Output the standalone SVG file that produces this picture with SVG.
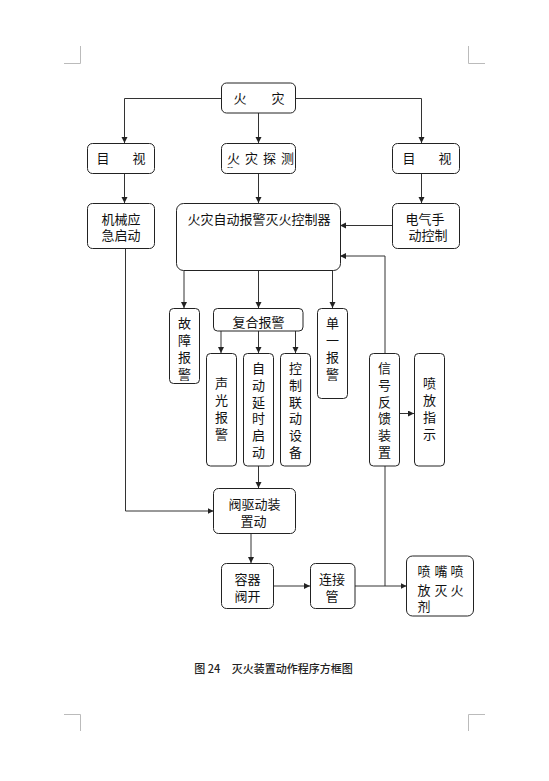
<svg xmlns="http://www.w3.org/2000/svg" width="549" height="781" viewBox="0 0 549 781">
<style>
.box{fill:#fff;stroke:#222;stroke-width:1}
.t{font-family:"Noto Sans CJK SC","Liberation Sans",sans-serif;font-size:13px;fill:#111;dominant-baseline:central;text-anchor:middle}
.ts{font-family:"Noto Sans CJK SC","Liberation Sans",sans-serif;font-size:13px;fill:#111;dominant-baseline:central;text-anchor:start}
.c{fill:none;stroke:#333;stroke-width:1}
.mark{fill:none;stroke:#bbb;stroke-width:1}
.cap{font-family:"Noto Sans CJK SC","Liberation Sans",sans-serif;font-size:11px;fill:#222;dominant-baseline:central;font-weight:500}
</style>
<defs>
<marker id="ah" markerUnits="userSpaceOnUse" markerWidth="8" markerHeight="8" refX="6" refY="3" orient="auto">
<path d="M0,0 L6,3 L0,6 Z" fill="#222"/>
</marker>
</defs>
<g id="cropmarks">
<path class="mark" d="M64,63.5 H80.5 V46"/>
<path class="mark" d="M485,63.5 H468.5 V46"/>
<path class="mark" d="M64,714.5 H80.5 V731"/>
<path class="mark" d="M485,714.5 H468.5 V731"/>
</g>
<g id="connectors">
<path class="c" marker-end="url(#ah)" d="M221,98.5 H124.5 V143"/>
<path class="c" marker-end="url(#ah)" d="M295,98.5 H421.5 V143"/>
<path class="c" marker-end="url(#ah)" d="M258.5,113 V143"/>
<path class="c" marker-end="url(#ah)" d="M124.5,173 V203"/>
<path class="c" marker-end="url(#ah)" d="M258.5,173 V203"/>
<path class="c" marker-end="url(#ah)" d="M421.5,173 V203"/>
<path class="c" marker-end="url(#ah)" d="M392,225.5 H340"/>
<path class="c" marker-end="url(#ah)" d="M385,353 V256 H340"/>
<path class="c" d="M385,586 V466"/>
<path class="c" marker-end="url(#ah)" d="M184,270.5 V308"/>
<path class="c" marker-end="url(#ah)" d="M258.5,270.5 V308"/>
<path class="c" marker-end="url(#ah)" d="M332.5,270.5 V308"/>
<path class="c" marker-end="url(#ah)" d="M221,331 V353"/>
<path class="c" marker-end="url(#ah)" d="M258.5,331 V353"/>
<path class="c" marker-end="url(#ah)" d="M295.5,331 V353"/>
<path class="c" marker-end="url(#ah)" d="M399.5,413.5 H414"/>
<path class="c" marker-end="url(#ah)" d="M258.5,466 V488"/>
<path class="c" marker-end="url(#ah)" d="M125.5,248 V511 H213.5"/>
<path class="c" marker-end="url(#ah)" d="M251,533 V563"/>
<path class="c" marker-end="url(#ah)" d="M273,586 H310"/>
<path class="c" marker-end="url(#ah)" d="M355,586 H406.5"/>
</g>
<g id="fire">
<rect class="box" x="221.5" y="83" width="74" height="30" rx="5"/>
<text class="t" x="240" y="97.5">火</text><text class="t" x="278" y="97.5">灾</text>
</g>
<g id="visual-left">
<rect class="box" x="87.5" y="143.5" width="67" height="30" rx="5"/>
<text class="t" x="103" y="157">目</text><text class="t" x="139" y="157">视</text>
</g>
<g id="detect">
<rect class="box" x="221.5" y="143.5" width="74" height="30" rx="5"/>
<text class="ts" x="227" y="157" letter-spacing="5">火灾探测</text>
<text class="ts" x="227" y="166" style="font-size:9px">--</text>
</g>
<g id="visual-right">
<rect class="box" x="392.5" y="143.5" width="67" height="30" rx="5"/>
<text class="t" x="409" y="157">目</text><text class="t" x="445" y="157">视</text>
</g>
<g id="mech">
<rect class="box" x="87.5" y="203.5" width="67" height="45" rx="5"/>
<text class="t" x="121" y="218">机械应</text><text class="t" x="121" y="234.5">急启动</text>
</g>
<g id="controller">
<rect class="box" x="176.5" y="203.5" width="164" height="67" rx="7"/>
<text class="t" x="259" y="218">火灾自动报警灭火控制器</text>
</g>
<g id="elec">
<rect class="box" x="392.5" y="203.5" width="67" height="45" rx="5"/>
<text class="t" x="425" y="218">电气手</text><text class="t" x="428" y="234.5">动控制</text>
</g>
<g id="fault">
<rect class="box" x="169.5" y="308.5" width="30" height="75" rx="4"/>
<text class="t" x="184.5" y="322">故</text><text class="t" x="184.5" y="339.5">障</text><text class="t" x="184.5" y="356.5">报</text><text class="t" x="184.5" y="373">警</text>
</g>
<g id="compound">
<rect class="box" x="213.5" y="308.5" width="89.5" height="22.5" rx="4"/>
<text class="t" x="258.5" y="321.5">复合报警</text>
</g>
<g id="single">
<rect class="box" x="317.5" y="308.5" width="30" height="90" rx="4"/>
<text class="t" x="332.5" y="322">单</text><text class="t" x="332.5" y="339.5">一</text><text class="t" x="332.5" y="356.5">报</text><text class="t" x="332.5" y="373">警</text>
</g>
<g id="sound">
<rect class="box" x="206.5" y="353.5" width="30" height="112.5" rx="4"/>
<text class="t" x="221.5" y="382">声</text><text class="t" x="221.5" y="399.5">光</text><text class="t" x="221.5" y="416.5">报</text><text class="t" x="221.5" y="433.5">警</text>
</g>
<g id="delay">
<rect class="box" x="243.5" y="353.5" width="30" height="112.5" rx="4"/>
<text class="t" x="258.5" y="367">自</text><text class="t" x="258.5" y="384">动</text><text class="t" x="258.5" y="401">延</text><text class="t" x="258.5" y="417.5">时</text><text class="t" x="258.5" y="434.5">启</text><text class="t" x="258.5" y="451">动</text>
</g>
<g id="linkage">
<rect class="box" x="280.5" y="353.5" width="30" height="112.5" rx="4"/>
<text class="t" x="295.5" y="367">控</text><text class="t" x="295.5" y="384">制</text><text class="t" x="295.5" y="401">联</text><text class="t" x="295.5" y="417.5">动</text><text class="t" x="295.5" y="434.5">设</text><text class="t" x="295.5" y="451">备</text>
</g>
<g id="feedback">
<rect class="box" x="369.5" y="353.5" width="30" height="112.5" rx="4"/>
<text class="t" x="384.5" y="367">信</text><text class="t" x="384.5" y="384">号</text><text class="t" x="384.5" y="401">反</text><text class="t" x="384.5" y="417.5">馈</text><text class="t" x="384.5" y="434.5">装</text><text class="t" x="384.5" y="451">置</text>
</g>
<g id="indicator">
<rect class="box" x="414.5" y="353.5" width="30" height="112.5" rx="4"/>
<text class="t" x="429.5" y="382">喷</text><text class="t" x="429.5" y="399.5">放</text><text class="t" x="429.5" y="416.5">指</text><text class="t" x="429.5" y="433.5">示</text>
</g>
<g id="valve-drive">
<rect class="box" x="213.5" y="488.5" width="82" height="45" rx="5"/>
<text class="t" x="254.5" y="503.5">阀驱动装</text><text class="t" x="253.5" y="520">置动</text>
</g>
<g id="container">
<rect class="box" x="221.5" y="563.5" width="52" height="45" rx="5"/>
<text class="t" x="247.5" y="578.5">容器</text><text class="t" x="247.5" y="595">阀开</text>
</g>
<g id="pipe">
<rect class="box" x="310.5" y="563.5" width="44.5" height="45" rx="5"/>
<text class="t" x="332" y="578.5">连接</text><text class="t" x="332" y="595">管</text>
</g>
<g id="nozzle">
<rect class="box" x="406.5" y="556" width="67" height="60" rx="6"/>
<text class="t" x="424" y="570.5">喷</text><text class="t" x="441" y="570.5">嘴</text><text class="t" x="457" y="570.5">喷</text>
<text class="t" x="424" y="589.5">放</text><text class="t" x="441" y="589.5">灭</text><text class="t" x="457" y="589.5">火</text>
<text class="t" x="424" y="605">剂</text>
</g>
<g id="caption">
<text class="cap" x="194.3" y="668.3">图 24</text>
<text class="cap" x="231.7" y="668.3">灭火装置动作程序方框图</text>
</g>
</svg>
